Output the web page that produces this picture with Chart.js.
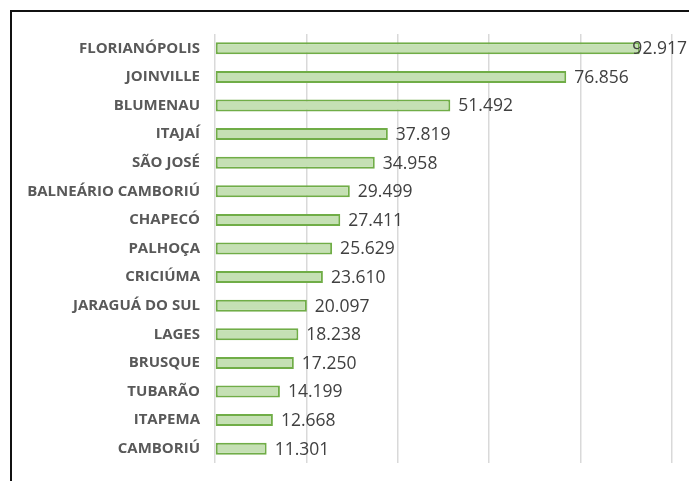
<!DOCTYPE html>
<html lang="pt-BR">
<head>
<meta charset="utf-8">
<script src="https://cdn.jsdelivr.net/npm/chart.js@4.4.1/dist/chart.umd.min.js"></script>
<style>
  html, body { margin: 0; padding: 0; background: #fff; overflow: hidden; }
  #quadro {
    position: absolute; left: 0; top: 0; width: 689px; height: 481px;
  }
  #moldura {
    position: absolute; left: 10px; top: 10px; width: 720px; height: 520px;
    border-left: 2px solid #111; border-top: 2px solid #111;
    pointer-events: none;
  }
</style>
</head>
<body>
<div id="quadro"><canvas id="grafico" width="689" height="481"></canvas></div>
<div id="moldura"></div>
<script>
  const cidades = ['FLORIANÓPOLIS', 'JOINVILLE', 'BLUMENAU', 'ITAJAÍ', 'SÃO JOSÉ',
    'BALNEÁRIO CAMBORIÚ', 'CHAPECÓ', 'PALHOÇA', 'CRICIÚMA', 'JARAGUÁ DO SUL',
    'LAGES', 'BRUSQUE', 'TUBARÃO', 'ITAPEMA', 'CAMBORIÚ'];
  const valores = [92917, 76856, 51492, 37819, 34958, 29499, 27411, 25629,
    23610, 20097, 18238, 17250, 14199, 12668, 11301];
  const eixoMax = 100000;
  const eixoPasso = 20000;

  function formatarMilhar(n) {
    return String(n).replace(/\B(?=(\d{3})+(?!\d))/g, '.');
  }

  // rótulos de valor no fim de cada barra
  const rotulosValor = {
    id: 'rotulosValor',
    afterDatasetsDraw(chart) {
      const ctx = chart.ctx;
      const meta = chart.getDatasetMeta(0);
      ctx.save();
      ctx.font = '17.5px "Open Sans"';
      ctx.fillStyle = '#404040';
      ctx.textBaseline = 'middle';
      meta.data.forEach((barra, i) => {
        const texto = formatarMilhar(valores[i]);
        const largura = ctx.measureText(texto).width;
        let x = barra.x + 8;
        if (x + largura > chart.width - 2) x = chart.width - 2 - largura;
        ctx.fillText(texto, x, barra.y + 1);
      });
      ctx.restore();
    }
  };

  const ctx = document.getElementById('grafico').getContext('2d');
  new Chart(ctx, {
    type: 'bar',
    data: {
      labels: cidades,
      datasets: [{
        data: valores,
        backgroundColor: '#c5e0b4',
        borderColor: '#70ad47',
        borderWidth: 2,
        borderSkipped: false,
        barPercentage: 0.42,
        categoryPercentage: 1
      }]
    },
    options: {
      indexAxis: 'y',
      responsive: false,
      animation: false,
      layout: { padding: { top: 34, bottom: 18, right: 17, left: 0 } },
      plugins: {
        legend: { display: false },
        tooltip: { enabled: false }
      },
      scales: {
        x: {
          min: 0,
          max: eixoMax,
          ticks: { stepSize: eixoPasso, display: false },
          grid: { color: '#d9d9d9', lineWidth: 1.5, drawTicks: false },
          border: { display: false },
          afterFit(eixo) { eixo.height = 0; }
        },
        y: {
          grid: { display: false, drawTicks: false },
          border: { display: false },
          ticks: {
            color: '#595959',
            padding: 15,
            font: { family: '"Open Sans"', size: 15, weight: 'bold' }
          },
          afterFit(eixo) {
            eixo.width = 215;
            // sem folga extra acima/abaixo por causa dos rótulos
            eixo.paddingTop = 0;
            eixo.paddingBottom = 0;
          }
        }
      }
    },
    plugins: [rotulosValor]
  });
</script>
</body>
</html>
